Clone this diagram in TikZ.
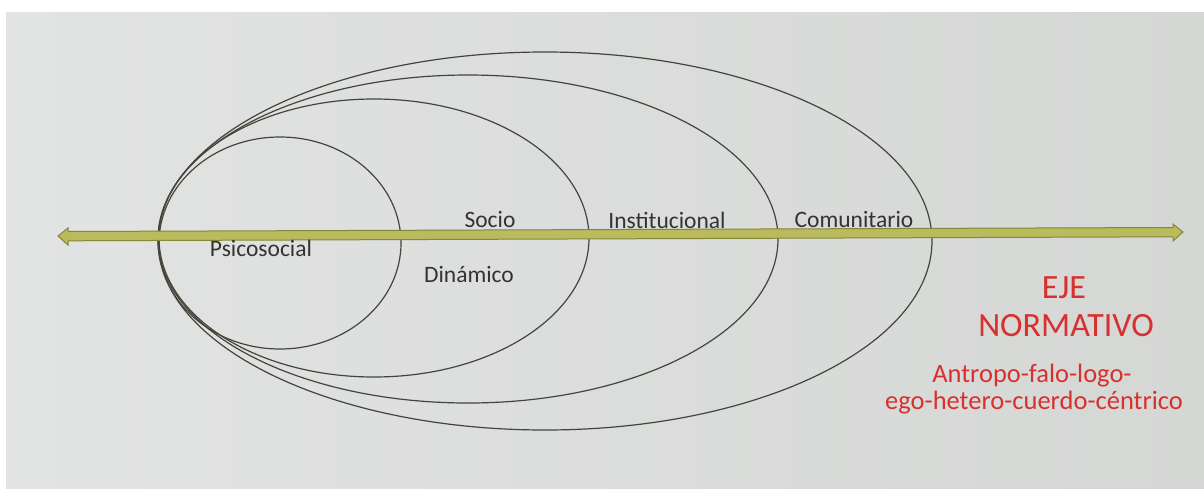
\documentclass[tikz,border=0pt]{standalone}
\usepackage{fontspec}
\setmainfont{Carlito}
\definecolor{bgmid}{HTML}{EBECEC}
\definecolor{bgleft}{HTML}{E2E3E3}
\definecolor{bgright}{HTML}{D5D7D5}
\definecolor{ring}{HTML}{44453A}
\definecolor{axisfill}{HTML}{B9BB5C}
\definecolor{axisline}{HTML}{85863A}
\definecolor{labeltxt}{HTML}{333333}
\definecolor{normred}{HTML}{D8302E}
\begin{document}
\begin{tikzpicture}[x=1pt,y=-1pt,
  ringstyle/.style={draw=ring, line width=1.2pt},
  lbl/.style={text=labeltxt, font=\fontsize{23.5}{28}\selectfont, anchor=base, inner sep=0pt},
  redbig/.style={text=normred, font=\fontsize{34}{40}\selectfont, anchor=base, inner sep=0pt},
  redsmall/.style={text=normred, font=\fontsize{26.5}{32}\selectfont, anchor=base, inner sep=0pt},
  axisstyle/.style={fill=axisfill, draw=axisline, line width=1pt, line join=miter}]
\useasboundingbox (0,0) rectangle (1204,488);
\fill[white] (0,0) rectangle (1204,488);
\shade[left color=bgleft, middle color=bgmid, right color=bgright] (6,12) rectangle (1204,488);
% rings
\draw[ringstyle] (545,241) ellipse [x radius=387, y radius=189];
\draw[ringstyle] (468,239) ellipse [x radius=310, y radius=164];
\draw[ringstyle] (374,238) ellipse [x radius=215, y radius=139];
\draw[ringstyle] (280,243) ellipse [x radius=121, y radius=106];
% axis (double arrow)
\coordinate (L) at (58,236);
\coordinate (R) at (1183,232);
\draw[axisstyle] (L) -- (68,228) -- (68,231.5) -- (1173,227.5) -- (1173,224) -- (R) -- (1173,241) -- (1173,236.8) -- (68,240.8) -- (68,245) -- cycle;
% labels
\node[lbl] (psico) at (261,256) {Psicosocial};
\node[lbl] (socio) at (490,227) {Socio};
\node[lbl] (dina) at (469,282) {Dinámico};
\node[lbl] (inst) at (667,228) {Institucional};
\node[lbl] (comu) at (854,227) {Comunitario};
\node[redbig] (eje) at (1064,298) {EJE};
\node[redbig] (norm) at (1066,336) {NORMATIVO};
\node[redsmall] (antro) at (1032,382) {Antropo-falo-logo-};
\node[redsmall] (ego) at (1034,409) {ego-hetero-cuerdo-céntrico};
\end{tikzpicture}
\end{document}
